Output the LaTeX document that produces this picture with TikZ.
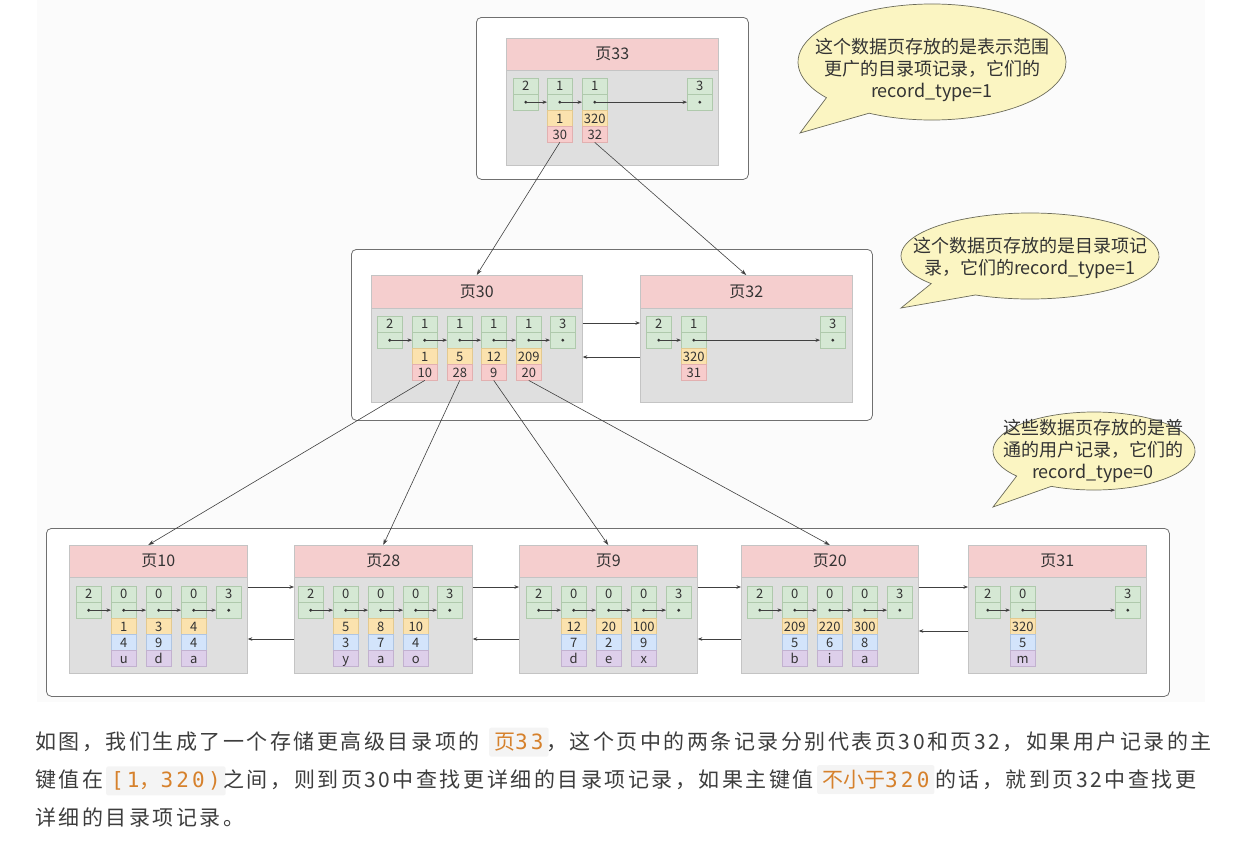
\documentclass[tikz,border=0pt]{standalone}
\usepackage{fontspec}
\setmainfont{Noto Sans CJK SC}
\newfontfamily\cjkfont{Noto Sans CJK SC}
\newfontfamily\parafont[LetterSpace=12]{Noto Sans CJK SC}
\newfontfamily\codefont[LetterSpace=15]{DejaVu Sans Mono}
\usetikzlibrary{arrows.meta,calc}

\definecolor{txt}{HTML}{333333}
\definecolor{hdrfill}{HTML}{F5CECE}
\definecolor{bodyfill}{HTML}{DFDFDF}
\definecolor{pageline}{HTML}{C4C4C4}
\definecolor{gfill}{HTML}{D5E8D4}
\definecolor{gline}{HTML}{AFC9AC}
\definecolor{yfill}{HTML}{FBE2AE}
\definecolor{yline}{HTML}{E3C98F}
\definecolor{rfill}{HTML}{F7CCCC}
\definecolor{rline}{HTML}{E2B0B0}
\definecolor{bfill}{HTML}{D3E4FB}
\definecolor{bline}{HTML}{AFC5E2}
\definecolor{vfill}{HTML}{DDCFEA}
\definecolor{vline}{HTML}{C2B1CF}
\definecolor{bubfill}{HTML}{FBF5C2}
\definecolor{bubline}{HTML}{6B6B5A}
\definecolor{paratxt}{HTML}{3D3D3D}
\definecolor{codetxt}{HTML}{D6812C}
\definecolor{codebg}{HTML}{F4F4F4}
\definecolor{linkcol}{HTML}{404040}
\definecolor{contline}{HTML}{707070}
\definecolor{canvas}{HTML}{FBFBFB}

% one record: type cell on top, next-pointer cell (with dot) below it
\newcommand\recnode[4]{%
  \node[gcell,anchor=north west] (#1t) at (#2,#3) {#4};
  \node[gcell,anchor=north] (#1n) at (#1t.south) {};
  \fill[txt] (#1n.center) circle[radius=1.6pt];
}
% data cell stacked under another cell
\newcommand\datnode[4]{\node[#2,anchor=north] (#1) at (#3.south) {#4};}
% singly linked list arrow between two records
\newcommand\nextlink[2]{\draw[lk] (#1n.center) -- (#2n.west);}
% a data page: header strip and grey body
\newcommand\pagebox[7]{%
  \node[hdr,anchor=north west,minimum width={(#4-#2)*1pt},minimum height={(#5-#3)*1pt}] (#1h) at (#2,#3) {#7};
  \node[body,anchor=north west,minimum width={(#4-#2)*1pt},minimum height={(#6-#5)*1pt}] (#1b) at (#2,#5) {};
}

\begin{document}
\begin{tikzpicture}[x=1pt,y=-1pt,
  cell/.style={minimum width=25pt,minimum height=15.6pt,inner sep=0pt,text height=10pt,text depth=0.5pt,line width=0.5pt,text=txt,font=\fontsize{13}{13}\selectfont},
  gcell/.style={cell,fill=gfill,draw=gline},
  ycell/.style={cell,fill=yfill,draw=yline},
  rcell/.style={cell,fill=rfill,draw=rline},
  bcell/.style={cell,fill=bfill,draw=bline},
  vcell/.style={cell,fill=vfill,draw=vline},
  hdr/.style={fill=hdrfill,draw=pageline,line width=0.5pt,inner sep=0pt,text=txt,font=\fontsize{16}{16}\selectfont},
  body/.style={fill=bodyfill,draw=pageline,line width=0.8pt,inner sep=0pt},
  cont/.style={draw=contline,fill=white,rounded corners=5pt,line width=0.8pt,inner sep=0pt,anchor=north west},
  lk/.style={draw=linkcol,line width=0.6pt,-{Stealth[length=4.5pt,width=3.5pt]}},
  tree/.style={draw=linkcol,line width=0.6pt,-{Stealth[length=6pt,width=4pt]}},
  bub/.style={fill=bubfill,draw=bubline,line width=0.7pt},
  bubtxt/.style={text=txt,font=\fontsize{18}{22}\selectfont,align=center,inner sep=0pt},
  para/.style={text=paratxt,font=\parafont\fontsize{21}{21}\selectfont,inner sep=0pt,anchor=base west},
  code/.style={text=codetxt,fill=codebg,rounded corners=2pt,inner xsep=5pt,inner ysep=0pt,minimum height=29pt,anchor=base west,font=\fontsize{21}{21}\selectfont},
]
\useasboundingbox (0,0) rectangle (1235,854);
\fill[canvas] (37,0) rectangle (1205,702);

% level containers
\node[cont,minimum width=272pt,minimum height=162pt] (c1) at (476,17) {};
\node[cont,minimum width=521pt,minimum height=171pt] (c2) at (351,249) {};
\node[cont,minimum width=1123pt,minimum height=168pt] (c3) at (46,528) {};

% ---------- page 33 ----------
\pagebox{p33}{506}{38}{718}{70}{165}{页33}
\recnode{p33a}{513}{78}{2}
\recnode{p33b}{547}{78}{1}
\recnode{p33c}{582}{78}{1}
\recnode{p33z}{687}{78}{3}
\datnode{p33bk}{ycell}{p33bn}{1}  \datnode{p33bv}{rcell}{p33bk}{30}
\datnode{p33ck}{ycell}{p33cn}{320}\datnode{p33cv}{rcell}{p33ck}{32}
\nextlink{p33a}{p33b}\nextlink{p33b}{p33c}\nextlink{p33c}{p33z}

% ---------- page 30 ----------
\pagebox{p30}{371}{275}{582}{308}{402}{页30}
\recnode{p30a}{377}{316}{2}
\recnode{p30b}{412}{316}{1}
\recnode{p30c}{447}{316}{1}
\recnode{p30d}{481}{316}{1}
\recnode{p30e}{516}{316}{1}
\recnode{p30z}{550}{316}{3}
\datnode{p30bk}{ycell}{p30bn}{1}  \datnode{p30bv}{rcell}{p30bk}{10}
\datnode{p30ck}{ycell}{p30cn}{5}  \datnode{p30cv}{rcell}{p30ck}{28}
\datnode{p30dk}{ycell}{p30dn}{12} \datnode{p30dv}{rcell}{p30dk}{9}
\datnode{p30ek}{ycell}{p30en}{209}\datnode{p30ev}{rcell}{p30ek}{20}
\nextlink{p30a}{p30b}\nextlink{p30b}{p30c}\nextlink{p30c}{p30d}\nextlink{p30d}{p30e}\nextlink{p30e}{p30z}

% ---------- page 32 ----------
\pagebox{p32}{640}{275}{852}{308}{402}{页32}
\recnode{p32a}{646}{316}{2}
\recnode{p32b}{681}{316}{1}
\recnode{p32z}{820}{316}{3}
\datnode{p32bk}{ycell}{p32bn}{320}\datnode{p32bv}{rcell}{p32bk}{31}
\nextlink{p32a}{p32b}\nextlink{p32b}{p32z}

\draw[lk] ($(p30b.north east)+(0,15)$) -- ($(p32b.north west)+(0,15)$);
\draw[lk] ($(p32b.north west)+(0,49)$) -- ($(p30b.north east)+(0,49)$);

% ---------- leaf pages ----------
\pagebox{p10}{69}{545}{247}{577}{673}{页10}
\recnode{p10a}{76}{586}{2}
\recnode{p10b}{111}{586}{0}
\recnode{p10c}{146}{586}{0}
\recnode{p10d}{181}{586}{0}
\recnode{p10z}{216}{586}{3}
\datnode{p10bk}{ycell}{p10bn}{1}\datnode{p10bv}{bcell}{p10bk}{4}\datnode{p10bw}{vcell}{p10bv}{u}
\datnode{p10ck}{ycell}{p10cn}{3}\datnode{p10cv}{bcell}{p10ck}{9}\datnode{p10cw}{vcell}{p10cv}{d}
\datnode{p10dk}{ycell}{p10dn}{4}\datnode{p10dv}{bcell}{p10dk}{4}\datnode{p10dw}{vcell}{p10dv}{a}
\nextlink{p10a}{p10b}\nextlink{p10b}{p10c}\nextlink{p10c}{p10d}\nextlink{p10d}{p10z}

\pagebox{p28}{294}{545}{472}{577}{673}{页28}
\recnode{p28a}{298}{586}{2}
\recnode{p28b}{333}{586}{0}
\recnode{p28c}{368}{586}{0}
\recnode{p28d}{403}{586}{0}
\recnode{p28z}{437}{586}{3}
\datnode{p28bk}{ycell}{p28bn}{5}\datnode{p28bv}{bcell}{p28bk}{3}\datnode{p28bw}{vcell}{p28bv}{y}
\datnode{p28ck}{ycell}{p28cn}{8}\datnode{p28cv}{bcell}{p28ck}{7}\datnode{p28cw}{vcell}{p28cv}{a}
\datnode{p28dk}{ycell}{p28dn}{10}\datnode{p28dv}{bcell}{p28dk}{4}\datnode{p28dw}{vcell}{p28dv}{o}
\nextlink{p28a}{p28b}\nextlink{p28b}{p28c}\nextlink{p28c}{p28d}\nextlink{p28d}{p28z}

\pagebox{p9}{519}{545}{697}{577}{673}{页9}
\recnode{p9a}{526}{586}{2}
\recnode{p9b}{561}{586}{0}
\recnode{p9c}{596}{586}{0}
\recnode{p9d}{631}{586}{0}
\recnode{p9z}{666}{586}{3}
\datnode{p9bk}{ycell}{p9bn}{12}\datnode{p9bv}{bcell}{p9bk}{7}\datnode{p9bw}{vcell}{p9bv}{d}
\datnode{p9ck}{ycell}{p9cn}{20}\datnode{p9cv}{bcell}{p9ck}{2}\datnode{p9cw}{vcell}{p9cv}{e}
\datnode{p9dk}{ycell}{p9dn}{100}\datnode{p9dv}{bcell}{p9dk}{9}\datnode{p9dw}{vcell}{p9dv}{x}
\nextlink{p9a}{p9b}\nextlink{p9b}{p9c}\nextlink{p9c}{p9d}\nextlink{p9d}{p9z}

\pagebox{p20}{741}{545}{918}{577}{673}{页20}
\recnode{p20a}{747}{586}{2}
\recnode{p20b}{782}{586}{0}
\recnode{p20c}{817}{586}{0}
\recnode{p20d}{852}{586}{0}
\recnode{p20z}{887}{586}{3}
\datnode{p20bk}{ycell}{p20bn}{209}\datnode{p20bv}{bcell}{p20bk}{5}\datnode{p20bw}{vcell}{p20bv}{b}
\datnode{p20ck}{ycell}{p20cn}{220}\datnode{p20cv}{bcell}{p20ck}{6}\datnode{p20cw}{vcell}{p20cv}{i}
\datnode{p20dk}{ycell}{p20dn}{300}\datnode{p20dv}{bcell}{p20dk}{8}\datnode{p20dw}{vcell}{p20dv}{a}
\nextlink{p20a}{p20b}\nextlink{p20b}{p20c}\nextlink{p20c}{p20d}\nextlink{p20d}{p20z}

\pagebox{p31}{968}{545}{1146}{577}{673}{页31}
\recnode{p31a}{975}{586}{2}
\recnode{p31b}{1010}{586}{0}
\recnode{p31z}{1115}{586}{3}
\datnode{p31bk}{ycell}{p31bn}{320}\datnode{p31bv}{bcell}{p31bk}{5}\datnode{p31bw}{vcell}{p31bv}{m}
\nextlink{p31a}{p31b}\nextlink{p31b}{p31z}

% doubly linked leaf pages
\draw[lk] ($(p10b.north east)+(0,10)$) -- ($(p28b.north west)+(0,10)$);
\draw[lk] ($(p28b.north west)+(0,62)$) -- ($(p10b.north east)+(0,62)$);
\draw[lk] ($(p28b.north east)+(0,10)$) -- ($(p9b.north west)+(0,10)$);
\draw[lk] ($(p9b.north west)+(0,62)$) -- ($(p28b.north east)+(0,62)$);
\draw[lk] ($(p9b.north east)+(0,10)$) -- ($(p20b.north west)+(0,10)$);
\draw[lk] ($(p20b.north west)+(0,62)$) -- ($(p9b.north east)+(0,62)$);
\draw[lk] ($(p20b.north east)+(0,10)$) -- ($(p31b.north west)+(0,10)$);
\draw[lk] ($(p31b.north west)+(0,54)$) -- ($(p20b.north east)+(0,54)$);

% directory entries pointing down to child pages
\draw[tree] (p33bv.south) -- (p30h.north);
\draw[tree] (p33cv.south) -- (p32h.north);
\draw[tree] (p30bv.south) -- ([xshift=-10pt]p10h.north);
\draw[tree] (p30cv.south) -- (p28h.north);
\draw[tree] (p30dv.south) -- (p9h.north);
\draw[tree] (p30ev.south) -- (p20h.north);

% speech bubbles
\coordinate (b1c) at (932,62);   \coordinate (b1tip) at (800,133);
\coordinate (b2c) at (1030,256); \coordinate (b2tip) at (901,308);
\coordinate (b3c) at (1094,451); \coordinate (b3tip) at (993,507);
\filldraw[bub] (b1tip) -- ($(b1c)+(118:134 and 58)$) arc[start angle=118,end angle=-218,x radius=134,y radius=58] -- cycle;
\filldraw[bub] (b2tip) -- ($(b2c)+(115:129 and 43)$) arc[start angle=115,end angle=-220,x radius=129,y radius=43] -- cycle;
\filldraw[bub] (b3tip) -- ($(b3c)+(115:101 and 39)$) arc[start angle=115,end angle=-220,x radius=101,y radius=39] -- cycle;
\node[bubtxt] (t1) at (932,70) {这个数据页存放的是表示范围\\更广的目录项记录，它们的\\record\_type=1};
\node[bubtxt] (t2) at (1030,258) {这个数据页存放的是目录项记\\录，它们的record\_type=1};
\node[bubtxt] (t3) at (1093,451) {这些数据页存放的是普\\通的用户记录，它们的\\record\_type=0};

% explanatory paragraph
\node[para] (l1a) at (35,749.5) {如图，我们生成了一个存储更高级目录项的};
\node[code] (l1b) at (489,749.5) {{\cjkfont 页}{\codefont 33}};
\node[para,anchor=base east] (l1c) at (1212,749.5) {，这个页中的两条记录分别代表页30和页32，如果用户记录的主};
\node[para] (l2a) at (35,787.5) {键值在};
\node[code] (l2b) at (106,787.5) {{\codefont [1}{\cjkfont ，}{\codefont 320)}};
\node[para,anchor=base east] (l2c) at (814,787.5) {之间，则到页30中查找更详细的目录项记录，如果主键值};
\node[code] (l2d) at (817,787.5) {{\cjkfont 不小于}{\codefont 320}};
\node[para] (l2e) at (935,787.5) {的话，就到页32中查找更};
\node[para] (l3a) at (35,825.5) {详细的目录项记录。};
\end{tikzpicture}
\end{document}
